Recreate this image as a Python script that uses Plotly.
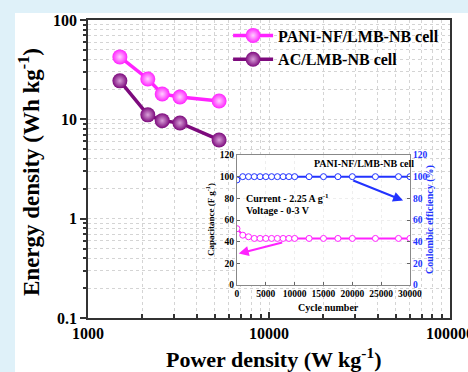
import plotly.graph_objects as go

# Main chart data (Ragone plot)
power_pani = [1500, 2140, 2570, 3220, 5300]
energy_pani = [42.5, 25.5, 18.0, 16.8, 15.3]
power_ac = [1500, 2140, 2570, 3220, 5300]
energy_ac = [24.4, 11.1, 9.7, 9.2, 6.2]

# Inset data (cycling)
cycles = [0, 1000, 2000, 3000, 4000, 5000, 6000, 7000, 8000, 9000, 10000,
          12500, 15000, 17500, 20000, 24000, 28000, 30000]
capacitance = [52, 46, 44.5, 43, 43, 43, 43, 43, 43, 43, 43,
               43, 43, 43, 43, 43, 43, 43]
efficiency = [97, 100, 100, 100, 100, 100, 100, 100, 100, 100, 100,
              100, 100, 100, 100, 100, 100, 100]
inset_xticks = [0, 5000, 10000, 15000, 20000, 25000, 30000]
inset_yticks = [0, 20, 40, 60, 80, 100, 120]

SERIF = "Liberation Serif, Times New Roman, serif"
MAG = "#ff22ff"
PUR = "#7d0a7d"
BLUE = "#2233ff"

fig = go.Figure()

fig.add_trace(go.Scatter(
    x=power_pani, y=energy_pani, mode="lines+markers", name="PANI-NF/LMB-NB cell",
    line=dict(color=MAG, width=3.5),
    marker=dict(size=15, color=MAG, gradient=dict(type="radial", color="#ffd0ff")),
    xaxis="x", yaxis="y"))
fig.add_trace(go.Scatter(
    x=power_ac, y=energy_ac, mode="lines+markers", name="AC/LMB-NB cell",
    line=dict(color=PUR, width=3.5),
    marker=dict(size=15, color=PUR, gradient=dict(type="radial", color="#d9a0d9")),
    xaxis="x", yaxis="y"))

fig.add_trace(go.Scatter(
    x=cycles, y=capacitance, mode="lines+markers", showlegend=False,
    line=dict(color=MAG, width=2),
    marker=dict(size=6, color="white", line=dict(color=MAG, width=1)),
    xaxis="x2", yaxis="y2"))
fig.add_trace(go.Scatter(
    x=cycles, y=efficiency, mode="lines+markers", showlegend=False,
    line=dict(color=BLUE, width=2),
    marker=dict(size=6, color="white", line=dict(color=BLUE, width=1)),
    xaxis="x2", yaxis="y3"))

gridc = "#d4d4d4"
tickfont = dict(family=SERIF, size=16, color="black", weight="bold")
small = dict(family=SERIF, size=10, color="black", weight="bold")
smallt = dict(family=SERIF, size=9.5, color="black", weight="bold")
smallb = dict(family=SERIF, size=9.5, color=BLUE, weight="bold")
smallbt = dict(family=SERIF, size=10, color=BLUE, weight="bold")

fig.update_layout(
    width=468, height=372,
    margin=dict(l=88, r=18, t=20, b=54, autoexpand=False),
    paper_bgcolor="#dff1f9",
    plot_bgcolor="white",
    showlegend=True,
    legend=dict(x=0.387, y=1.005, xanchor="left", yanchor="top",
                bgcolor="rgba(0,0,0,0)", font=dict(family=SERIF, size=16, color="black", weight="bold"),
                itemwidth=40, tracegroupgap=0),
    xaxis=dict(type="log", range=[3, 5], domain=[0, 1], anchor="y", automargin=False,
               tickmode="linear", tick0=0, dtick=1, tickformat="d",
               ticklabeloverflow="allow",
               ticks="inside", ticklen=6, tickwidth=1.5, tickcolor="#333",
               showline=True, linecolor="#333", linewidth=1.5, mirror=True,
               showgrid=True, gridcolor=gridc, griddash="dot",
               minor=dict(dtick="D1", ticks="inside", ticklen=4, tickcolor="#333", showgrid=True,
                          gridcolor=gridc, griddash="dot"),
               tickfont=tickfont, zeroline=False),
    yaxis=dict(type="log", range=[-1, 2], domain=[0, 1], anchor="x", automargin=False,
               tickmode="linear", tick0=0, dtick=1, exponentformat="none",
               ticks="outside", ticklen=6, tickwidth=1.5, tickcolor="#333",
               showline=True, linecolor="#333", linewidth=1.5, mirror=True,
               showgrid=True, gridcolor=gridc, griddash="dot",
               minor=dict(dtick="D1", ticks="outside", ticklen=3, tickcolor="#333", showgrid=True,
                          gridcolor=gridc, griddash="dot"),
               tickfont=tickfont, zeroline=False),
    xaxis2=dict(domain=[0.4116, 0.8895], anchor="y2", range=[0, 30000], automargin=False,
                tickvals=inset_xticks, ticktext=[str(v) for v in inset_xticks],
                ticks="inside", ticklen=3, tickcolor="#666",
                showline=True, linecolor="#888", linewidth=1, mirror=True,
                showgrid=True, gridcolor="#eeeeee", griddash="dot",
                tickfont=smallt, zeroline=False),
    yaxis2=dict(domain=[0.1107, 0.547], anchor="x2", range=[0, 120], automargin=False,
                tickvals=inset_yticks, ticktext=[str(v) for v in inset_yticks],
                ticks="inside", ticklen=3, tickcolor="#666",
                showline=True, linecolor="#888", linewidth=1,
                showgrid=True, gridcolor="#eeeeee", griddash="dot",
                tickfont=smallt, zeroline=False),
    yaxis3=dict(overlaying="y2", side="right", anchor="x2", range=[0, 120], automargin=False,
                tickvals=inset_yticks, ticktext=[str(v) for v in inset_yticks],
                ticks="inside", ticklen=3, tickcolor="#666",
                showline=True, linecolor="#888", linewidth=1,
                showgrid=False, tickfont=smallb, zeroline=False),
)

# backgrounds
fig.add_shape(type="rect", xref="paper", yref="paper", x0=-0.2017, x1=1.06, y0=-0.19, y1=1.0235,
              fillcolor="white", line=dict(width=0), layer="below")
fig.add_shape(type="rect", xref="x2 domain", yref="y2 domain", x0=0, x1=1, y0=0, y1=1,
              fillcolor="white", line=dict(width=0), layer="below")

def ann(text, px, py, font, angle=0):
    fig.add_annotation(text=text, xref="paper", yref="paper",
                       x=(px - 88) / 362, y=(318 - py) / 298, textangle=angle,
                       xanchor="center", yanchor="middle", showarrow=False, font=font)

# axis titles
ann("Energy density (Wh kg<sup>-1</sup>)", 30, 172,
    dict(family=SERIF, size=23, color="black", weight="bold"), -90)
ann("Power density (W kg<sup>-1</sup>)", 274, 358,
    dict(family=SERIF, size=22, color="black", weight="bold"))

# inset titles
ann("Cycle number", 328, 307, small)
ann("Capacitance (F g<sup>-1</sup>)", 210, 220,
    dict(family=SERIF, size=9, color="black", weight="bold"), -90)
ann("Coulombic efficiency (%)", 430, 220, smallbt, -90)

fig.add_annotation(text="PANI-NF/LMB-NB cell", xref="x2", yref="y2", x=22000, y=112,
                   xanchor="center", yanchor="middle", showarrow=False, font=small)
fig.add_annotation(text="Current - 2.25 A g<sup>-1</sup>", xref="x2", yref="y2", x=1200, y=80,
                   xanchor="left", yanchor="middle", showarrow=False, font=small)
fig.add_annotation(text="Voltage - 0-3 V", xref="x2", yref="y2", x=1200, y=69,
                   xanchor="left", yanchor="middle", showarrow=False, font=small)

# arrows
fig.add_annotation(x=28800, y=78, ax=19900, ay=97, xref="x2", yref="y2", axref="x2", ayref="y2",
                   text="", showarrow=True, arrowhead=2, arrowsize=1, arrowwidth=2, arrowcolor=BLUE)
fig.add_annotation(x=300, y=29, ax=8100, ay=39.5, xref="x2", yref="y2", axref="x2", ayref="y2",
                   text="", showarrow=True, arrowhead=2, arrowsize=1, arrowwidth=2, arrowcolor=MAG)

fig.write_html("out.html")
